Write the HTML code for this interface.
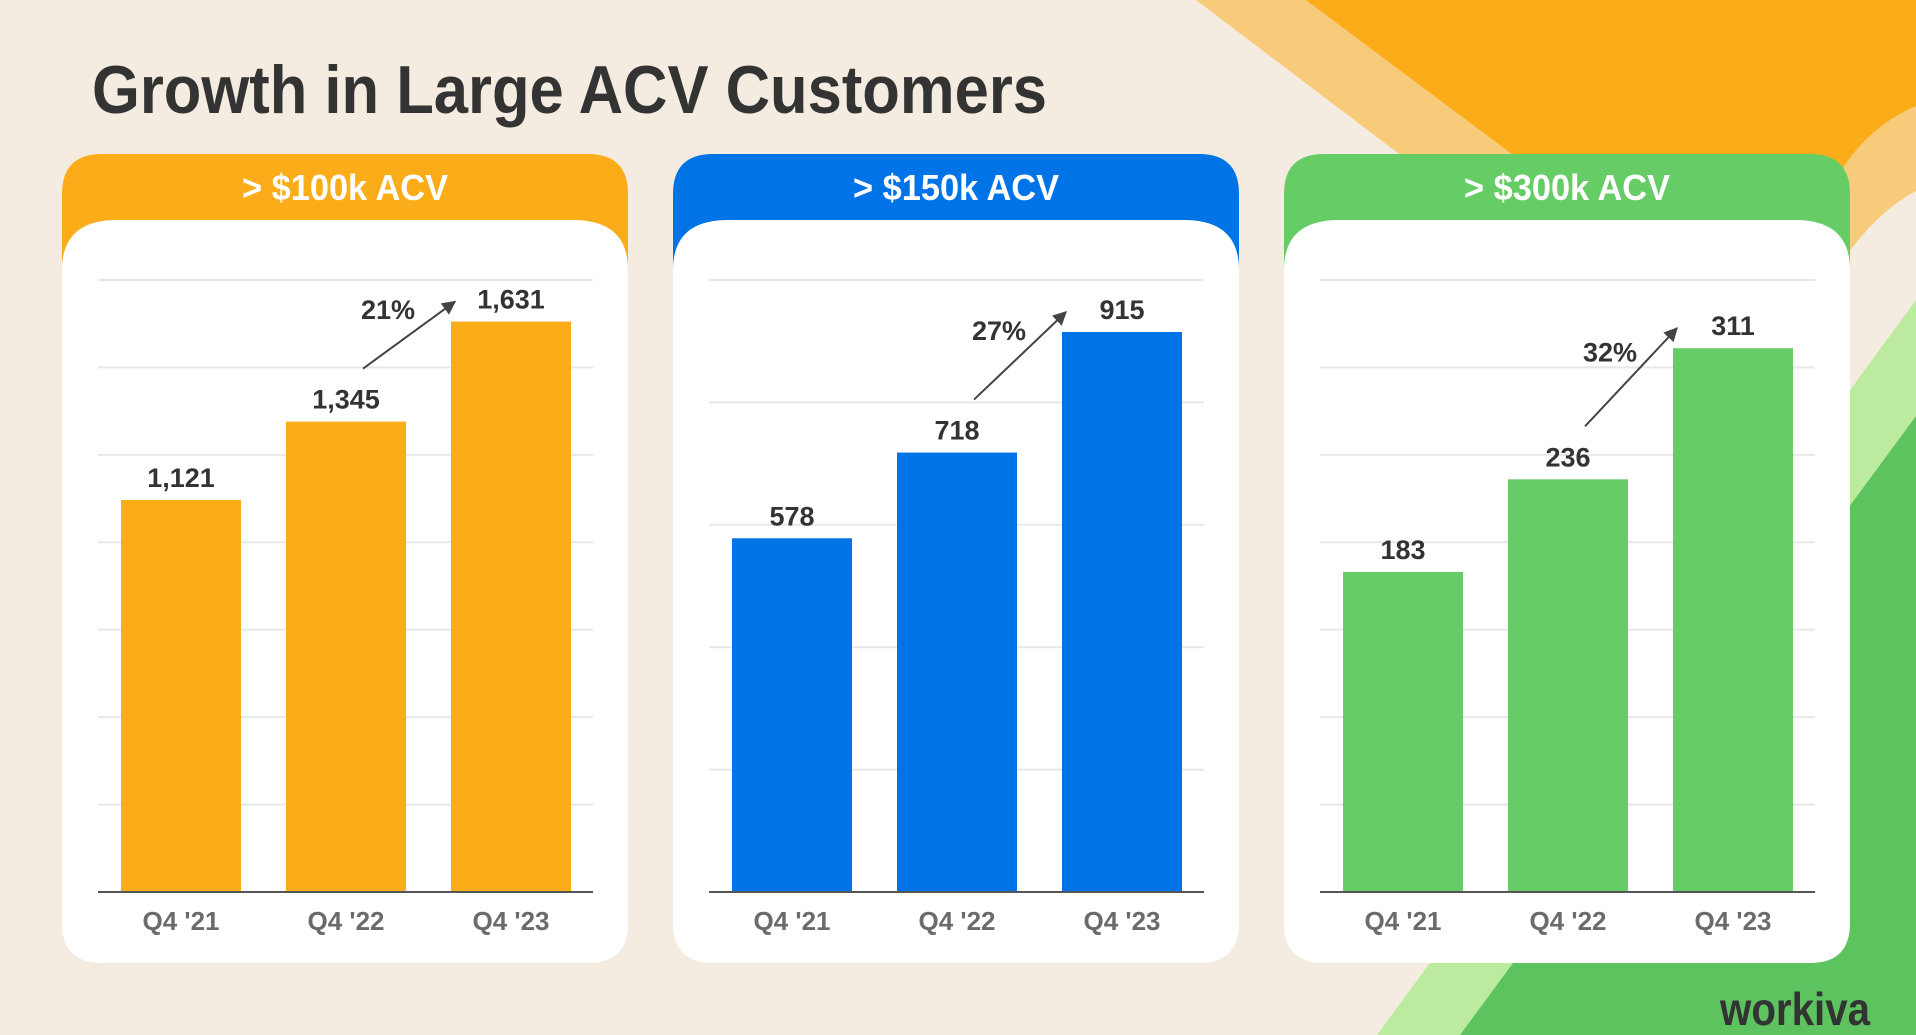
<!DOCTYPE html>
<html><head><meta charset="utf-8"><style>
html,body{margin:0;padding:0;background:#F4ECE0;}
svg{display:block;font-family:"Liberation Sans",sans-serif;}
</style></head><body>
<svg id="s" width="1916" height="1035" viewBox="0 0 1916 1035" xmlns="http://www.w3.org/2000/svg">
<rect width="1916" height="1035" fill="#F4ECE0"/>
<path d="M1196,0 L1916,0 L1916,191 Q1870,215 1830,280 L1539,260 Z" fill="#F8CB7A"/>
<path d="M1306,0 L1916,0 L1916,106 Q1860,130 1830,190 L1600,220 Z" fill="#FAAD19"/>
<polygon points="1377,1035 1916,300 1916,1035" fill="#BCEBA0"/>
<polygon points="1460,1035 1916,416 1916,1035" fill="#5DC35F"/>
<text x="92" y="113" font-size="68" font-weight="bold" fill="#333" textLength="955" lengthAdjust="spacingAndGlyphs">Growth in Large ACV Customers</text>
<text x="1870" y="1025" text-anchor="end" font-size="46" font-weight="bold" fill="#333" textLength="150" lengthAdjust="spacingAndGlyphs">workiva</text>
<g id="charts"></g>
</svg>
<script>
const categories = ["Q4 '21", "Q4 '22", "Q4 '23"];
const titles = ["> $100k ACV", "> $150k ACV", "> $300k ACV"];
const values100k = [1121, 1345, 1631];
const values150k = [578, 718, 915];
const values300k = [183, 236, 311];
const labels100k = ["1,121", "1,345", "1,631"];
const labels150k = ["578", "718", "915"];
const labels300k = ["183", "236", "311"];
const growthLabels = ["21%", "27%", "32%"];
const axisMax = [1750, 1000, 350];
const axisStep = [250, 200, 50];

const NS = "http://www.w3.org/2000/svg";
const root = document.getElementById('charts');
function mk(tag, attrs, parent) {
  const e = document.createElementNS(NS, tag);
  for (const k in attrs) e.setAttribute(k, attrs[k]);
  parent.appendChild(e);
  return e;
}
const colors = ["#FAAD19", "#0074E6", "#66CC66"];
const panelNames = ["100k", "150k", "300k"];
const allValues = [values100k, values150k, values300k];
const allLabels = [labels100k, labels150k, labels300k];
const defs = mk('defs', {}, root);
const mkr = mk('marker', {id: 'ah', viewBox: '0 0 10 10', refX: '9', refY: '5', markerWidth: '7', markerHeight: '7', orient: 'auto'}, defs);
mk('path', {d: 'M0,0 L10,5 L0,10 z', fill: '#444'}, mkr);

for (let p = 0; p < 3; p++) {
  const ox = p * 611;
  const g = mk('g', {}, root);
  
  
  const L = 62 + ox, R = 628 + ox, T = 154, B = 963;
  const hdr = mk('path', {d: `M${L},${T+40} Q${L},${T} ${L+40},${T} L${R-40},${T} Q${R},${T} ${R},${T+40} L${R},300 L${L},300 Z`, fill: colors[p]}, g);
  
  
  const WT = 220;
  const body = mk('path', {d: `M${L},${WT+50} Q${L},${WT} ${L+55},${WT} L${R-55},${WT} Q${R},${WT} ${R},${WT+50} L${R},${B-40} Q${R},${B} ${R-40},${B} L${L+40},${B} Q${L},${B} ${L},${B-40} Z`, fill: '#fff'}, g);
  
  
  const ht = mk('text', {x: (L+R)/2, y: 200, 'text-anchor': 'middle', 'font-size': '36', 'font-weight': 'bold', fill: '#fff', textLength: '206', lengthAdjust: 'spacingAndGlyphs'}, g);
  ht.textContent = titles[p];
  
  

  const x0 = 98 + ox, x1 = 593 + ox, yBase = 892, yTop = 280;
  const yS = v => yBase - (v / axisMax[p]) * (yBase - yTop);
  for (let v = axisStep[p]; v <= axisMax[p] + 1e-9; v += axisStep[p]) {
    const gl = mk('line', {x1: x0, x2: x1, y1: yS(v), y2: yS(v), stroke: '#e8e8e8', 'stroke-width': '2'}, g);
    
    
  }
  const vals = allValues[p];
  const bw = 120, step = 165, first = 121 + ox;
  const xS = i => first + i * step;
  for (let i = 0; i < vals.length; i++) {
    const bar = mk('rect', {x: xS(i), y: yS(vals[i]), width: bw, height: yBase - yS(vals[i]), fill: colors[p]}, g);
    
    
    const vl = mk('text', {x: xS(i) + bw/2, y: yS(vals[i]) - 13, 'text-anchor': 'middle', 'font-size': '27', 'font-weight': 'bold', fill: '#333'}, g);
    vl.textContent = allLabels[p][i];
    
    
    const xl = mk('text', {x: xS(i) + bw/2, y: 930, 'text-anchor': 'middle', 'font-size': '26', 'font-weight': 'bold', fill: '#6b6b6b'}, g);
    xl.textContent = categories[i];
    
    
  }
  const ax = mk('line', {x1: x0, x2: x1, y1: yBase, y2: yBase, stroke: '#555', 'stroke-width': '2'}, g);
  
  

  const sx = xS(1) + bw/2 + 17, sy = yS(vals[1]) - 53;
  const ex = xS(2) + 4, ey = yS(vals[2]) - 20;
  const arr = mk('line', {x1: sx, y1: sy, x2: ex, y2: ey, stroke: '#444', 'stroke-width': '2', 'marker-end': 'url(#ah)'}, g);
  
  
  const gt = mk('text', {x: (sx+ex)/2 + 6, y: (sy+ey)/2 - 16, 'text-anchor': 'end', 'font-size': '27', 'font-weight': 'bold', fill: '#333'}, g);
  gt.textContent = growthLabels[p];
  
  
}
</script>
</body></html>
